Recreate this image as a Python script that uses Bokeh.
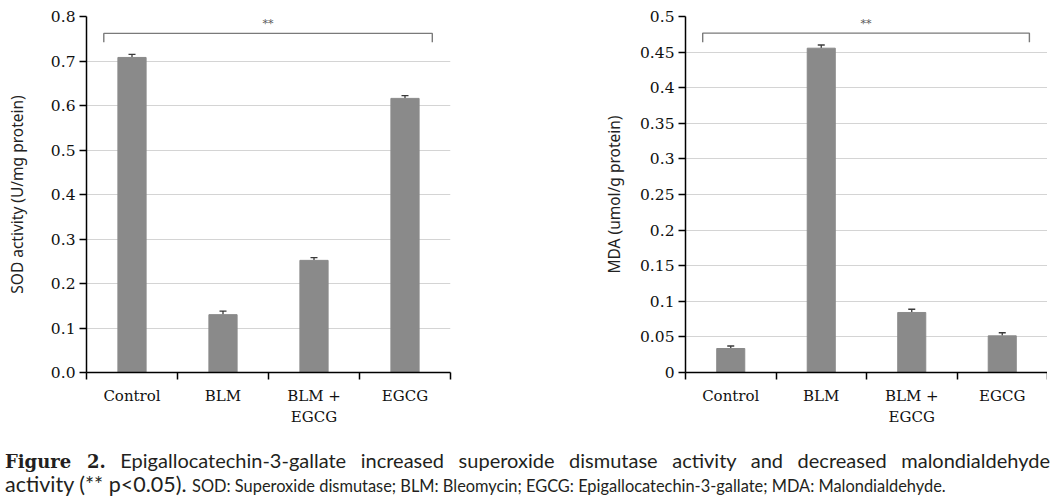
from bokeh.plotting import figure
from bokeh.layouts import column, row
from bokeh.models import ColumnDataSource, Whisker, TeeHead, FixedTicker, Div
from bokeh.core.properties import value
from bokeh.embed import file_html
from bokeh.resources import INLINE

categories = ["Control", "BLM", "BLM + EGCG", "EGCG"]
category_labels = ["Control", "BLM", "BLM +\nEGCG", "EGCG"]

sod_values = [0.708, 0.130, 0.252, 0.616]
sod_errors = [0.007, 0.008, 0.006, 0.006]
mda_values = [0.0337, 0.4555, 0.0843, 0.0515]
mda_errors = [0.0035, 0.0045, 0.0045, 0.0043]

sod_ticks = [0.0, 0.1, 0.2, 0.3, 0.4, 0.5, 0.6, 0.7, 0.8]
sod_tick_labels = ["0.0", "0.1", "0.2", "0.3", "0.4", "0.5", "0.6", "0.7", "0.8"]
mda_ticks = [0.0, 0.05, 0.1, 0.15, 0.2, 0.25, 0.3, 0.35, 0.4, 0.45, 0.5]
mda_tick_labels = ["0", "0.05", "0.1", "0.15", "0.2", "0.25", "0.3", "0.35", "0.4", "0.45", "0.5"]

sod_label = "SOD activity (U/mg protein)"
mda_label = "MDA (umol/g protein)"
significance = "**"

BAR_COLOR = "#8a8a8a"
ERR_COLOR = "#3a3a3a"
SERIF = "DejaVu Serif"
SANS = "Noto Sans"


def make_panel(values, errors, ticks, tick_labels, ylabel, ymax, bracket_hi, bracket_lo,
               border_left, border_right, frame_w, label_standoff):
    n = len(categories)
    centers = [i + 0.5 for i in range(n)]
    p = figure(width=border_left + frame_w + border_right, height=432,
               x_range=(0, n), y_range=(0, ymax),
               output_backend="svg", toolbar_location=None,
               min_border_left=border_left, min_border_right=border_right,
               min_border_top=16, min_border_bottom=56)
    p.frame_width = frame_w
    p.frame_height = 356
    p.outline_line_color = None
    p.background_fill_color = "white"

    src = ColumnDataSource(dict(x=centers, top=values,
                                upper=[v + e for v, e in zip(values, errors)],
                                lower=values))
    p.vbar(x="x", top="top", width=0.31, bottom=0, source=src,
           fill_color=BAR_COLOR, line_color=BAR_COLOR)
    w = Whisker(base="x", upper="upper", lower="lower", source=src,
                line_color=ERR_COLOR, line_width=1.3,
                upper_head=TeeHead(size=7, line_color=ERR_COLOR, line_width=1.3),
                lower_head=None)
    p.add_layout(w)

    # significance bracket
    x0, x1 = 0.19, 3.80
    p.line(x=[x0, x0, x1, x1], y=[bracket_lo, bracket_hi, bracket_hi, bracket_lo],
           line_color="#7a7a7a", line_width=1.4)
    p.text(x=[(x0 + x1) / 2], y=[bracket_hi], text=[significance],
           text_align="center", text_baseline="bottom", text_font_size="11px",
           text_color="#5a5a5a", text_font=value(SERIF), y_offset=-3)

    # x axis: labels at centers, ticks at boundaries
    xa = p.xaxis[0]
    xa.ticker = FixedTicker(ticks=centers, minor_ticks=list(range(n + 1)))
    xa.major_label_overrides = {c: lab for c, lab in zip(centers, category_labels)}
    xa.major_tick_out = 0
    xa.major_tick_in = 0
    xa.minor_tick_out = 7
    xa.minor_tick_in = 0
    xa.minor_tick_line_color = "black"
    xa.minor_tick_line_width = 1.5
    xa.axis_line_color = "black"
    xa.axis_line_width = 1.5
    xa.major_label_text_font = SERIF
    xa.major_label_text_font_size = "15px"
    xa.major_label_text_color = "#111111"
    xa.major_label_standoff = 7

    ya = p.yaxis[0]
    ya.ticker = FixedTicker(ticks=ticks, minor_ticks=[])
    ya.major_label_overrides = {t: lab for t, lab in zip(ticks, tick_labels)}
    ya.major_tick_out = 7
    ya.major_tick_in = 0
    ya.major_tick_line_width = 1.5
    ya.axis_line_color = "black"
    ya.axis_line_width = 1.5
    ya.major_label_text_font = SERIF
    ya.major_label_text_font_size = "15.5px"
    ya.major_label_text_color = "#111111"
    ya.major_label_standoff = 4
    ya.axis_label = ylabel
    ya.axis_label_text_font = SANS
    ya.axis_label_text_font_style = "normal"
    ya.axis_label_text_font_size = "15.5px"
    ya.axis_label_text_color = "#222222"
    ya.axis_label_standoff = label_standoff

    p.xgrid.grid_line_color = None
    p.ygrid.grid_line_color = "#d4d4d4"
    p.ygrid.grid_line_width = 1.2
    return p


p1 = make_panel(sod_values, sod_errors, sod_ticks, sod_tick_labels, sod_label, 0.8,
                0.762, 0.742, 86, 10, 364, 20)
p2 = make_panel(mda_values, mda_errors, mda_ticks, mda_tick_labels, mda_label, 0.5,
                0.4766, 0.464, 225, 0, 362, 12)

caption = Div(
    text=(
        '<div style="font-family:Lato,\'Noto Sans\',sans-serif;color:#231f20;width:1045px;">'
        '<div style="font-size:20px;line-height:23px;white-space:nowrap;text-align:justify;text-align-last:justify;">'
        '<span style="font-family:\'DejaVu Serif\';font-weight:bold;font-size:18px;">Figure 2.</span> '
        'Epigallocatechin-3-gallate increased superoxide dismutase activity and decreased malondialdehyde'
        '</div>'
        '<div style="font-size:21.5px;line-height:23px;white-space:nowrap;">'
        'activity (** p&lt;0.05). <span style="font-size:16.4px;">SOD: Superoxide dismutase; BLM: Bleomycin; '
        'EGCG: Epigallocatechin-3-gallate; MDA: Malondialdehyde.</span>'
        '</div></div>'
    ),
    width=1045, height=46, styles={"margin-top": "20px"},
)

layout = column(row(p1, p2), caption)
open("out.html", "w").write(file_html(layout, INLINE))
